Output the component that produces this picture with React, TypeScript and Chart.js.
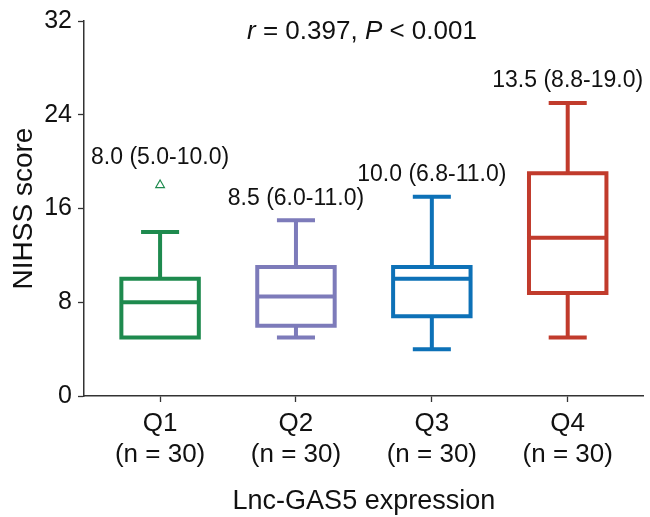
import React, { useEffect, useRef } from "react";
import { Chart, registerables } from "chart.js";

Chart.register(...registerables);

// ---- data ----
const groups = ["Q1", "Q2", "Q3", "Q4"];
const groupN = [30, 30, 30, 30];
const whiskerLow = [5, 5, 4, 5];
const quart1 = [5, 6, 6.8, 8.8];
const median = [8, 8.5, 10, 13.5];
const quart3 = [10, 11, 11, 19];
const whiskerHigh = [14, 15, 17, 25];
const outlierGroup = [1];
const outlierValue = [18];
const summaryLabels = ["8.0 (5.0-10.0)", "8.5 (6.0-11.0)", "10.0 (6.8-11.0)", "13.5 (8.8-19.0)"];
const yTicks = [0, 8, 16, 24, 32];
const colors = ["#1e8a4e", "#7d7bba", "#0d71b7", "#c13b2c"];

const FONT = '"Liberation Sans", Arial, Helvetica, sans-serif';
const BOX_W = 0.57;
const CAP_W = 0.28;

const boxPlugin = {
  id: "boxes",
  afterDatasetsDraw(chart: any) {
    const { ctx, scales } = chart;
    const xs = scales.x;
    const ys = scales.y;
    ctx.save();
    for (let i = 0; i < groups.length; i++) {
      const cx = xs.getPixelForValue(i + 1);
      const hw = xs.getPixelForValue(1 + BOX_W / 2) - xs.getPixelForValue(1);
      const cw = xs.getPixelForValue(1 + CAP_W / 2) - xs.getPixelForValue(1);
      const yLo = ys.getPixelForValue(whiskerLow[i]);
      const yQ1 = ys.getPixelForValue(quart1[i]);
      const yMed = ys.getPixelForValue(median[i]);
      const yQ3 = ys.getPixelForValue(quart3[i]);
      const yHi = ys.getPixelForValue(whiskerHigh[i]);
      ctx.strokeStyle = colors[i];
      ctx.lineWidth = 4;
      ctx.lineCap = "butt";
      ctx.lineJoin = "miter";
      ctx.beginPath();
      ctx.moveTo(cx, yQ3);
      ctx.lineTo(cx, yHi);
      ctx.moveTo(cx - cw, yHi);
      ctx.lineTo(cx + cw, yHi);
      if (whiskerLow[i] < quart1[i]) {
        ctx.moveTo(cx, yQ1);
        ctx.lineTo(cx, yLo);
        ctx.moveTo(cx - cw, yLo);
        ctx.lineTo(cx + cw, yLo);
      }
      ctx.stroke();
      ctx.beginPath();
      ctx.rect(cx - hw, yQ3, 2 * hw, yQ1 - yQ3);
      ctx.moveTo(cx - hw, yMed);
      ctx.lineTo(cx + hw, yMed);
      ctx.stroke();
      // summary label
      let topPx = yHi;
      outlierGroup.forEach((g, k) => {
        if (g === i + 1) topPx = Math.min(topPx, ys.getPixelForValue(outlierValue[k]) - 5);
      });
      const ty = topPx - 22;
      ctx.fillStyle = "#111";
      ctx.font = `23px ${FONT}`;
      ctx.textAlign = "center";
      ctx.textBaseline = "middle";
      ctx.fillText(summaryLabels[i], cx, ty);
    }
    // title with italic r and P
    const parts: [string, boolean][] = [
      ["r", true],
      [" = 0.397, ", false],
      ["P", true],
      [" < 0.001", false],
    ];
    const size = 26;
    let total = 0;
    parts.forEach(([t, it]) => {
      ctx.font = `${it ? "italic " : ""}${size}px ${FONT}`;
      total += ctx.measureText(t).width;
    });
    let x = 362 - total / 2;
    ctx.fillStyle = "#111";
    ctx.textAlign = "left";
    ctx.textBaseline = "middle";
    parts.forEach(([t, it]) => {
      ctx.font = `${it ? "italic " : ""}${size}px ${FONT}`;
      ctx.fillText(t, x, 32);
      x += ctx.measureText(t).width;
    });
    ctx.restore();
  },
};

export default function App() {
  const ref = useRef<HTMLCanvasElement | null>(null);
  useEffect(() => {
    if (!ref.current) return;
    const chart = new Chart(ref.current, {
      type: "scatter",
      data: {
        datasets: [
          {
            label: "outliers",
            data: outlierGroup.map((g, k) => ({ x: g, y: outlierValue[k] })),
            pointStyle: "triangle",
            pointRadius: 5,
            borderWidth: 1.2,
            borderColor: colors[0],
            backgroundColor: "rgba(0,0,0,0)",
          },
        ],
      },
      options: {
        animation: false,
        responsive: true,
        maintainAspectRatio: false,
        layout: { padding: { top: 19, right: 0, left: 0, bottom: 0 } },
        plugins: { legend: { display: false }, tooltip: { enabled: false }, title: { display: false } },
        scales: {
          x: {
            type: "linear",
            min: 0.44,
            max: 4.56,
            afterBuildTicks: (s: any) => {
              s.ticks = groups.map((_, i) => ({ value: i + 1 }));
            },
            afterFit: (s: any) => {
              s.height = 121;
            },
            ticks: {
              autoSkip: false,
              maxRotation: 0,
              padding: 6,
              color: "#111",
              font: { family: FONT, size: 26, lineHeight: 1.2 },
              callback: (v: any) => {
                const i = Math.round(Number(v)) - 1;
                return [groups[i], `(n = ${groupN[i]})`];
              },
            },
            grid: { drawOnChartArea: false, tickLength: 6, tickColor: "#333", tickWidth: 1.3 },
            border: { color: "#333", width: 1.5 },
            title: {
              display: true,
              text: "Lnc-GAS5 expression",
              color: "#111",
              font: { family: FONT, size: 27, lineHeight: 1.0 },
              padding: { top: 0, bottom: 2 },
            },
          },
          y: {
            type: "linear",
            min: 0,
            max: 32,
            afterBuildTicks: (s: any) => {
              s.ticks = yTicks.map((v) => ({ value: v }));
            },
            afterFit: (s: any) => {
              s.width = 84;
            },
            ticks: {
              padding: 6,
              color: "#111",
              font: { family: FONT, size: 25 },
            },
            grid: { drawOnChartArea: false, tickLength: 6, tickColor: "#333", tickWidth: 1.3 },
            border: { color: "#333", width: 1.5 },
            title: {
              display: true,
              text: "NIHSS score",
              color: "#111",
              font: { family: FONT, size: 28 },
              padding: { top: 7, bottom: 0 },
            },
          },
        },
      },
      plugins: [boxPlugin],
    });
    return () => chart.destroy();
  }, []);
  return (
    <div style={{ position: "fixed", left: 0, top: 0, width: 650, height: 517, background: "#fff" }}>
      <canvas ref={ref} />
    </div>
  );
}
